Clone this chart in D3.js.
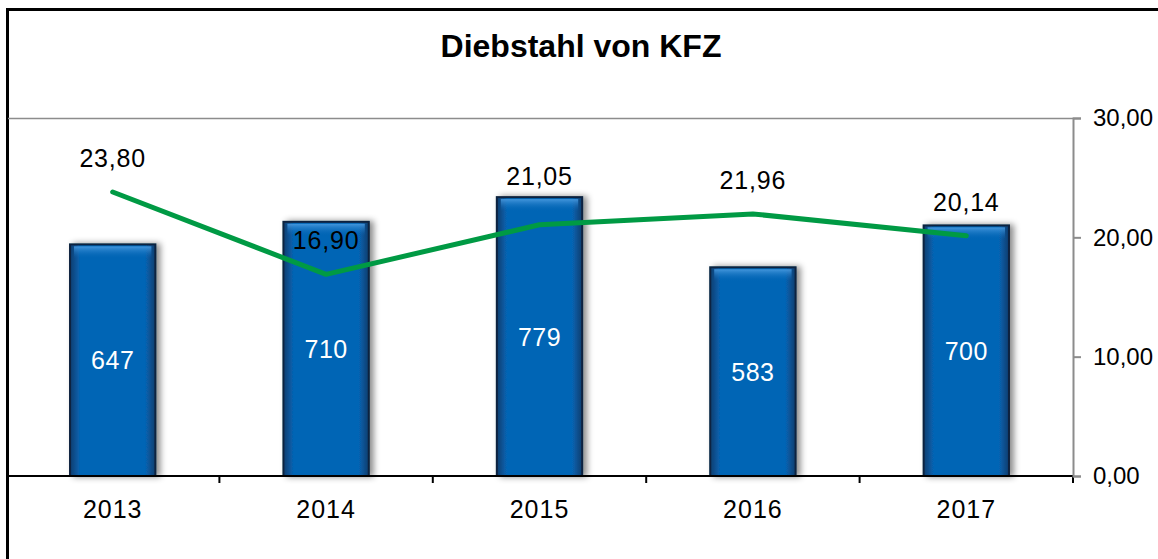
<!DOCTYPE html>
<html>
<head>
<meta charset="utf-8">
<script src="https://cdn.jsdelivr.net/npm/d3@7"></script>
<style>
  body { margin: 0; background: #fff; }
  svg { font-family: "Liberation Sans", Arial, sans-serif; }
</style>
</head>
<body>
<div id="chart"></div>
<script>
// data
const years = ["2013", "2014", "2015", "2016", "2017"];
const cases = [647, 710, 779, 583, 700];
const rates = [23.80, 16.90, 21.05, 21.96, 20.14];
const rateTicks = [0, 10, 20, 30];

const width = 1158, height = 559;
const plot = {left: 6, right: 1073, top: 118, bottom: 476};

const fmt = d => d3.format(".2f")(d).replace(".", ",");

const svg = d3.select("#chart")
  .append("svg")
    .attr("width", width)
    .attr("height", height);

// bar gradient + shadow
const defs = svg.append("defs");
const grad = defs.append("linearGradient").attr("id", "barGrad")
  .attr("x1", 0).attr("x2", 1).attr("y1", 0).attr("y2", 0);
grad.append("stop").attr("offset", "0%").attr("stop-color", "#0a3d6e");
grad.append("stop").attr("offset", "12%").attr("stop-color", "#0665b5");
grad.append("stop").attr("offset", "88%").attr("stop-color", "#0665b5");
grad.append("stop").attr("offset", "100%").attr("stop-color", "#0a3d6e");

const top_grad = defs.append("linearGradient").attr("id", "topGrad")
  .attr("x1", 0).attr("x2", 0).attr("y1", 0).attr("y2", 1);
top_grad.append("stop").attr("offset", "0%").attr("stop-color", "#4a9be0").attr("stop-opacity", 0.9);
top_grad.append("stop").attr("offset", "100%").attr("stop-color", "#0665b5").attr("stop-opacity", 0);

const shadow = defs.append("filter").attr("id", "shadow")
  .attr("x", "-20%").attr("y", "-10%").attr("width", "150%").attr("height", "120%");
shadow.append("feDropShadow")
  .attr("dx", 4).attr("dy", 0).attr("stdDeviation", 3)
  .attr("flood-color", "#000").attr("flood-opacity", 0.45);

// scales
const x = d3.scaleBand()
  .domain(years)
  .range([plot.left, plot.right])
  .paddingInner(0.6)
  .paddingOuter(0.3);

const yBar = d3.scaleLinear()
  .domain([0, 1000])
  .range([plot.bottom, plot.top]);

const yRate = d3.scaleLinear()
  .domain([0, 30])
  .range([plot.bottom, plot.top]);

const cx = d => x(d) + x.bandwidth() / 2;

// outer frame
svg.append("rect")
  .attr("x", 7.5).attr("y", 9.5)
  .attr("width", width + 20).attr("height", height + 20)
  .attr("fill", "none")
  .attr("stroke", "#000")
  .attr("stroke-width", 3);

// title
svg.append("text")
  .attr("x", 581).attr("y", 57)
  .attr("text-anchor", "middle")
  .style("font-size", "32px")
  .style("font-weight", "bold")
  .text("Diebstahl von KFZ");

// top plot border
svg.append("line")
  .attr("x1", 8).attr("x2", plot.right)
  .attr("y1", plot.top + 0.5).attr("y2", plot.top + 0.5)
  .attr("stroke", "#8c8c8c").attr("stroke-width", 1.5);

// bars
const bars = svg.selectAll(".bar")
  .data(years.map((d, i) => ({year: d, value: cases[i]})))
  .join("g")
    .attr("class", "bar");

bars.append("rect")
  .attr("x", d => x(d.year))
  .attr("y", d => yBar(d.value))
  .attr("width", x.bandwidth())
  .attr("height", d => plot.bottom - yBar(d.value))
  .attr("fill", "url(#barGrad)")
  .attr("stroke", "#08243f")
  .attr("stroke-width", 2)
  .attr("filter", "url(#shadow)");

bars.append("rect")
  .attr("x", d => x(d.year) + 4)
  .attr("y", d => yBar(d.value) + 2)
  .attr("width", x.bandwidth() - 8)
  .attr("height", 12)
  .attr("fill", "url(#topGrad)");

bars.append("text")
  .attr("x", d => cx(d.year))
  .attr("y", d => (yBar(d.value) + plot.bottom) / 2 + 9)
  .attr("text-anchor", "middle")
  .attr("fill", "#fff")
  .style("font-size", "25px")
  .style("letter-spacing", "0.5px")
  .text(d => d.value);

// bottom axis
const xAxis = svg.append("g")
  .attr("transform", `translate(0, ${plot.bottom})`);
xAxis.append("line")
  .attr("x1", 8).attr("x2", plot.right)
  .attr("stroke", "#000").attr("stroke-width", 2);
xAxis.selectAll(".sep")
  .data(years)
  .join("line")
    .attr("x1", d => x(d) - x.step() * x.paddingInner() / 2 + x.step())
    .attr("x2", d => x(d) - x.step() * x.paddingInner() / 2 + x.step())
    .attr("y1", 0).attr("y2", 7)
    .attr("stroke", "#000").attr("stroke-width", 2);
xAxis.selectAll(".lbl")
  .data(years)
  .join("text")
    .attr("x", d => cx(d))
    .attr("y", 42)
    .attr("text-anchor", "middle")
    .style("font-size", "25px")
    .style("letter-spacing", "1px")
    .text(d => d);

// right axis
const yAxis = svg.append("g")
  .attr("transform", `translate(${plot.right}, 0)`)
  .call(d3.axisRight(yRate)
    .tickValues(rateTicks)
    .tickSize(8)
    .tickPadding(12)
    .tickFormat(fmt));
yAxis.select(".domain").attr("stroke", "#8c8c8c").attr("stroke-width", 2);
yAxis.selectAll(".tick line").attr("stroke", "#8c8c8c").attr("stroke-width", 2);
yAxis.selectAll(".tick text")
  .style("font-size", "24px")
  .style("font-family", "Liberation Sans, Arial, sans-serif")
  .attr("fill", "#000");

// rate line
const line = d3.line()
  .x((d, i) => cx(years[i]))
  .y(d => yRate(d));

svg.append("path")
  .datum(rates)
  .attr("d", line)
  .attr("fill", "none")
  .attr("stroke", "#009a44")
  .attr("stroke-width", 5)
  .attr("stroke-linecap", "round")
  .attr("stroke-linejoin", "round");

// rate labels above points; lifted above the bar top if they would straddle it
svg.selectAll(".rate-lbl")
  .data(rates)
  .join("text")
    .attr("class", "rate-lbl")
    .attr("x", (d, i) => cx(years[i]))
    .attr("y", (d, i) => {
      const base = yRate(d) - 25;
      const barTop = yBar(cases[i]);
      return (base + 4 > barTop && base - 18 < barTop) ? barTop - 12 : base;
    })
    .attr("text-anchor", "middle")
    .style("font-size", "25px")
    .style("letter-spacing", "0.8px")
    .text(fmt);
</script>
</body>
</html>
